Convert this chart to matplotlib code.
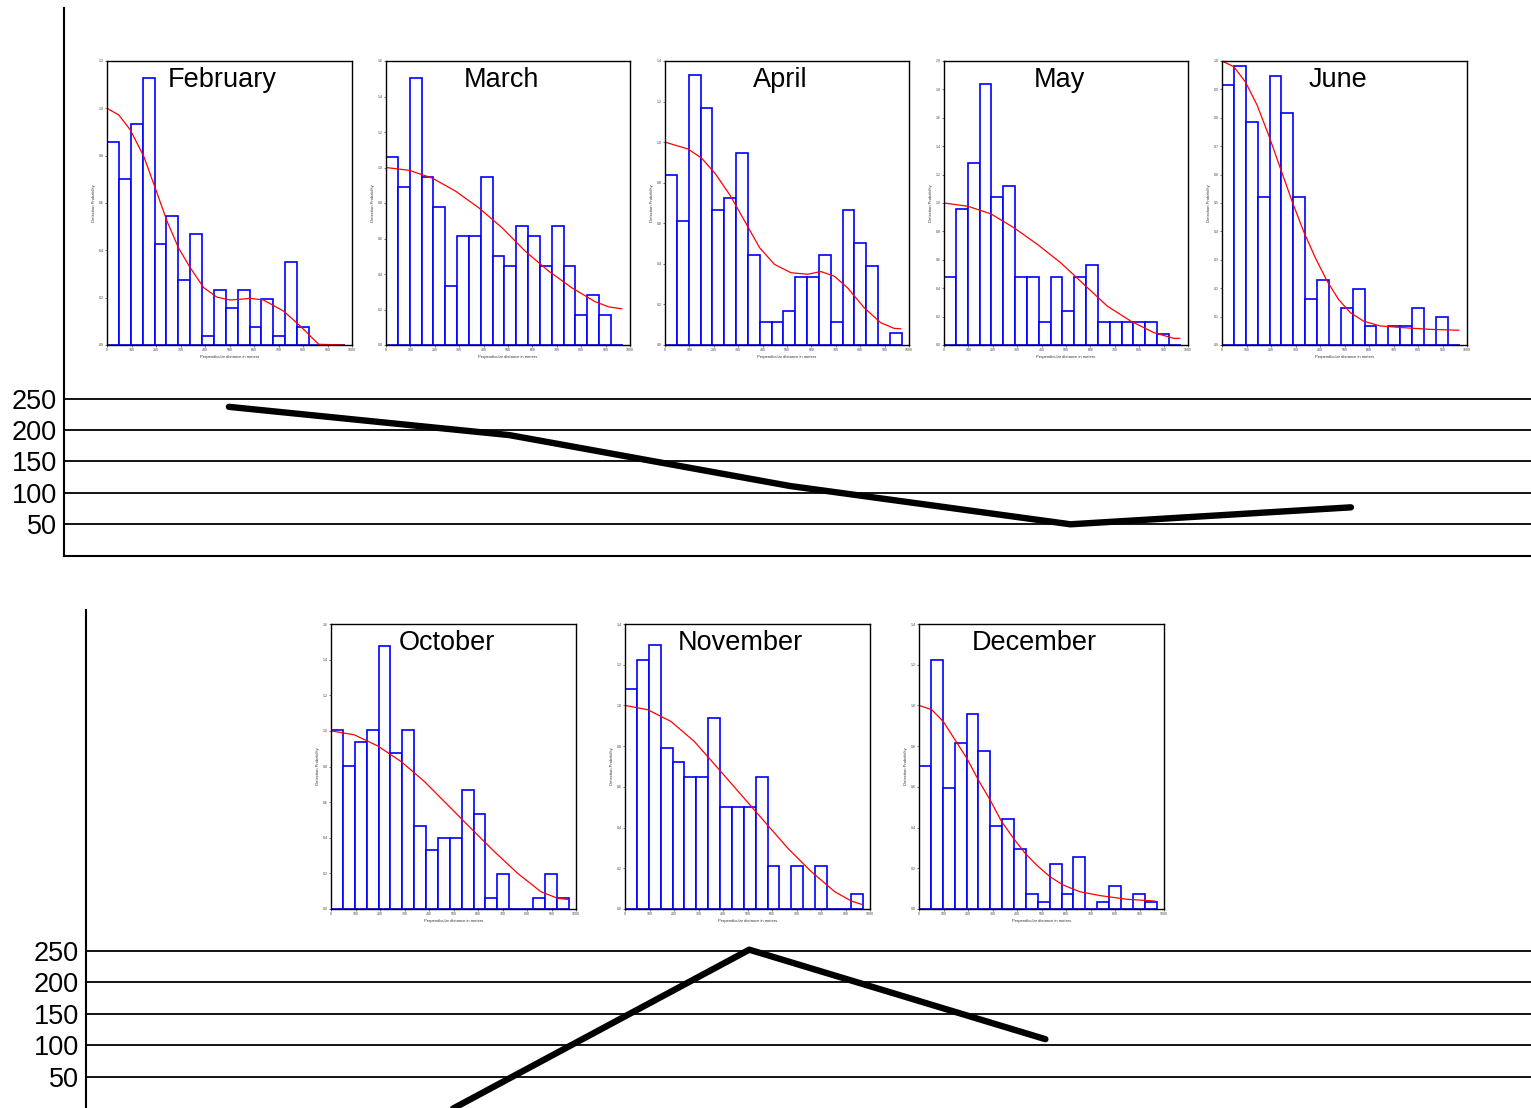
import numpy as np
import matplotlib
matplotlib.use("Agg")
import matplotlib.pyplot as plt

plt.rcParams['font.family'] = ['Liberation Sans', 'DejaVu Sans']

# monthly totals (thick line charts)
top_months = [2, 3, 4, 5, 6]
top_values = [237, 192, 111, 50, 77]
bot_months = [10, 11, 12]
bot_values = [0, 252, 110]
grid_levels = [50, 100, 150, 200, 250]

# histogram bins (perpendicular distance, m)
bin_width = 48.5
bin_edges = [i * bin_width for i in range(20)]

feb_bars = [0.857, 0.701, 0.933, 1.127, 0.427, 0.544, 0.273, 0.468, 0.039, 0.233,
            0.157, 0.233, 0.077, 0.195, 0.039, 0.351, 0.077, 0, 0, 0]
mar_bars = [1.059, 0.890, 1.503, 0.946, 0.779, 0.333, 0.613, 0.613, 0.946, 0.502,
            0.446, 0.671, 0.613, 0.446, 0.671, 0.446, 0.167, 0.279, 0.167, 0]
apr_bars = [0.836, 0.611, 1.333, 1.167, 0.667, 0.725, 0.946, 0.444, 0.113, 0.113,
            0.169, 0.334, 0.334, 0.444, 0.113, 0.667, 0.502, 0.390, 0, 0.057]
may_bars = [0.482, 0.958, 1.281, 1.836, 1.040, 1.119, 0.482, 0.482, 0.162, 0.482,
            0.241, 0.482, 0.560, 0.162, 0.162, 0.162, 0.162, 0.162, 0.080, 0]
jun_bars = [0.915, 0.981, 0.785, 0.521, 0.948, 0.817, 0.522, 0.163, 0.228, 0,
            0.131, 0.197, 0.066, 0, 0.066, 0.066, 0.131, 0, 0.098, 0]
oct_bars = [1.004, 0.804, 0.940, 1.004, 1.474, 0.873, 1.004, 0.468, 0.332, 0.399,
            0.399, 0.669, 0.536, 0.064, 0.199, 0, 0, 0.064, 0.199, 0.064]
nov_bars = [1.080, 1.225, 1.298, 0.793, 0.721, 0.648, 0.648, 0.938, 0.503, 0.503,
            0.503, 0.648, 0.213, 0, 0.213, 0, 0.213, 0, 0, 0.072]
dec_bars = [0.702, 1.221, 0.592, 0.813, 0.959, 0.777, 0.407, 0.444, 0.297, 0.072,
            0.034, 0.221, 0.072, 0.257, 0, 0.034, 0.111, 0, 0.072, 0.034]

# fitted detection curves (red)
feb_cx = [0, 48, 95, 150, 197, 245, 292, 340, 395, 449, 503, 585, 639, 721, 789, 864, 966]
feb_cy = [1.0, 0.972, 0.909, 0.797, 0.663, 0.523, 0.41, 0.326, 0.242, 0.202, 0.19, 0.197,
          0.19, 0.143, 0.08, 0.003, 0.0]
mar_cx = [0, 95, 190, 286, 381, 476, 571, 667, 762, 857, 912, 966]
mar_cy = [1.0, 0.984, 0.94, 0.866, 0.772, 0.66, 0.528, 0.416, 0.322, 0.244, 0.215, 0.204]
apr_cx = [0, 95, 150, 204, 265, 327, 388, 449, 517, 585, 639, 694, 748, 816, 884, 939, 966]
apr_cy = [1.0, 0.966, 0.921, 0.848, 0.741, 0.61, 0.479, 0.397, 0.356, 0.349, 0.362, 0.339,
          0.282, 0.184, 0.11, 0.082, 0.08]
may_cx = [0, 98, 193, 288, 384, 479, 574, 669, 765, 860, 941, 966]
may_cy = [1.0, 0.977, 0.923, 0.824, 0.707, 0.578, 0.426, 0.274, 0.169, 0.087, 0.047, 0.047]
jun_cx = [0, 48, 95, 143, 190, 238, 286, 333, 381, 429, 476, 524, 578, 646, 741, 850, 966]
jun_cy = [1.0, 0.98, 0.927, 0.845, 0.74, 0.623, 0.506, 0.4, 0.307, 0.225, 0.16, 0.114,
          0.084, 0.067, 0.061, 0.055, 0.052]
oct_cx = [0, 95, 190, 286, 381, 476, 571, 667, 762, 857, 925, 966]
oct_cy = [1.0, 0.978, 0.916, 0.828, 0.716, 0.585, 0.453, 0.322, 0.2, 0.097, 0.06, 0.054]
nov_cx = [0, 93, 188, 283, 379, 474, 569, 665, 760, 856, 924, 965]
nov_cy = [1.0, 0.979, 0.921, 0.823, 0.692, 0.561, 0.43, 0.298, 0.184, 0.085, 0.039, 0.023]
dec_cx = [0, 52, 99, 147, 195, 242, 290, 337, 385, 433, 480, 534, 588, 656, 738, 847, 963]
dec_cy = [1.0, 0.979, 0.921, 0.831, 0.741, 0.634, 0.536, 0.43, 0.348, 0.274, 0.216, 0.159,
          0.118, 0.085, 0.066, 0.048, 0.039]

W, H = 1531, 1108
fig = plt.figure(figsize=(W / 100, H / 100), dpi=100)


def box(x0, y0, x1, y1):
    return [x0 / W, 1 - y1 / H, (x1 - x0) / W, (y1 - y0) / H]


def line_chart(rect, months, values, xlim, ylim_top, show_bottom):
    ax = fig.add_axes(rect)
    ax.set_xlim(*xlim)
    ax.set_ylim(0, ylim_top)
    ax.set_yticks(grid_levels)
    ax.set_yticklabels([str(v) for v in grid_levels], fontsize=19.5)
    ax.set_xticks([])
    ax.tick_params(axis='y', length=0, pad=5)
    ax.grid(axis='y', color='black', lw=1.3)
    for s in ['top', 'right']:
        ax.spines[s].set_visible(False)
    ax.spines['bottom'].set_visible(show_bottom)
    ax.spines['left'].set_linewidth(1.5)
    ax.spines['bottom'].set_linewidth(1.5)
    ax.plot(months, values, color='black', lw=4.6, solid_capstyle='round')
    return ax


line_chart(box(64, 8, 1531, 555.7), top_months, top_values, (1.412, 6.642), 872, True)
line_chart(box(86, 610, 1531, 1108.5), bot_months, bot_values, (8.76, 13.64), 791, False)

panels = [
    ("February", (107, 61, 352, 345), 1.2, 0.2, feb_bars, feb_cx, feb_cy),
    ("March", (386, 61, 630, 345), 1.6, 0.2, mar_bars, mar_cx, mar_cy),
    ("April", (665, 61, 909, 345), 1.4, 0.2, apr_bars, apr_cx, apr_cy),
    ("May", (944, 61, 1188, 345), 2.0, 0.2, may_bars, may_cx, may_cy),
    ("June", (1222, 61, 1467, 345), 1.0, 0.1, jun_bars, jun_cx, jun_cy),
    ("October", (331, 624, 576, 909), 1.6, 0.2, oct_bars, oct_cx, oct_cy),
    ("November", (625, 624, 870, 909), 1.4, 0.2, nov_bars, nov_cx, nov_cy),
    ("December", (919, 624, 1164, 909), 1.4, 0.2, dec_bars, dec_cx, dec_cy),
]

for name, (x0, y0, x1, y1), ymax, step, bars, cx, cy in panels:
    ax = fig.add_axes(box(x0, y0, x1, y1))
    ax.bar(bin_edges, bars, width=bin_width, align='edge', facecolor='white',
           edgecolor='#0000ff', lw=1.2)
    ax.plot(cx, cy, color='red', lw=0.9)
    ax.set_xlim(0, 1000)
    ax.set_ylim(0, ymax)
    ax.set_xticks(range(0, 1001, 100))
    ax.set_yticks(np.round(np.arange(0, ymax + step / 2, step), 1))
    ax.yaxis.set_major_formatter(matplotlib.ticker.FormatStrFormatter('%.1f'))
    ax.tick_params(labelsize=2.5, length=1.5, width=0.5, pad=1, colors='#444444')
    ax.set_xlabel("Perpendicular distance in meters", fontsize=3, labelpad=1.5, color='#333333')
    ax.set_ylabel("Detection Probability", fontsize=3, labelpad=1.5, color='#333333')
    for s in ax.spines.values():
        s.set_linewidth(1.0)
    fig.text((x0 + x1) / 2 / W - 7 / W, 1 - (y0 + 26) / H, name, fontsize=19.5,
             ha='center', va='baseline')

fig.savefig("out.png", dpi=100)
